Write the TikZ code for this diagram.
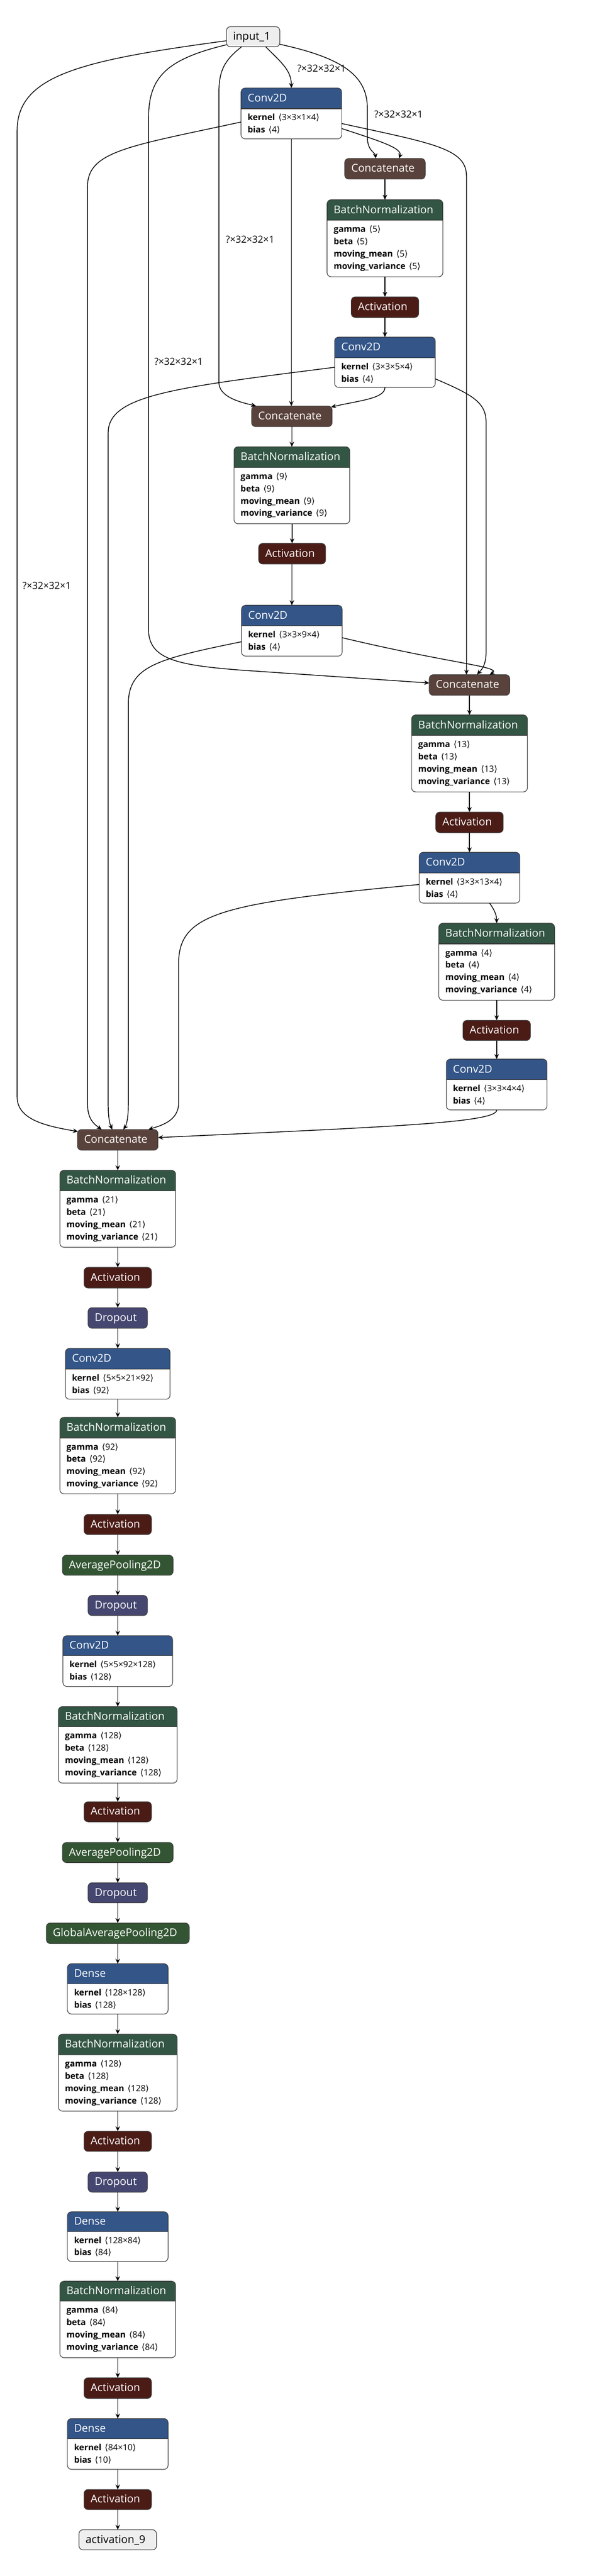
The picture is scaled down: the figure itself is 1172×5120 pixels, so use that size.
\documentclass[tikz,border=0pt]{standalone}
\usepackage{fontspec}
\setmainfont{Open Sans}
\newfontfamily\symf{DejaVu Sans}
\usetikzlibrary{arrows.meta,calc,fit}
\definecolor{clayer}{RGB}{51,85,136}
\definecolor{cnorm}{RGB}{51,85,68}
\definecolor{cact}{RGB}{75,27,22}
\definecolor{cpool}{RGB}{51,85,51}
\definecolor{cdrop}{RGB}{69,71,112}
\definecolor{ctens}{RGB}{89,66,59}
\definecolor{cio}{RGB}{238,238,238}
\definecolor{bordc}{RGB}{60,60,60}
\newcommand\rad{8pt}
\tikzset{
 edge/.style={draw=black, line width=1.5pt, -{Stealth[length=10pt,width=9pt,inset=3.5pt]}},
 bord/.style={draw=bordc, line width=1.2pt},
 hfont/.style={font=\fontsize{21.4}{24}\selectfont},
 afont/.style={font=\fontsize{17}{20}\selectfont},
 lbl/.style={font=\fontsize{19.3}{22}\selectfont, inner sep=0pt},
}
% layer box with header: name xl yt xr yh yb color title
\newcommand\lyr[8]{%
  \node[fit={(#2,#3) (#4,#6)}, inner sep=0pt, outer sep=0pt, fill=white, rounded corners=\rad] (#1) {};
  \begin{scope}
    \clip (#2,#3) rectangle (#4,#5);
    \fill[#7, rounded corners=\rad] (#2,#3) rectangle (#4,#6);
  \end{scope}
  \draw[bord] (#2,#5) -- (#4,#5);
  \draw[bord, rounded corners=\rad] (#2,#3) rectangle (#4,#6);
  \node[hfont, text=white, anchor=base west, inner sep=0pt] (#1-t) at ({#2+13},{(#3+#5)/2+6.5}) {#8};
}
% attribute row: box xl yh index key value
\newcommand\att[6]{%
  \node[afont, anchor=base west, inner sep=0pt] (#1-a#4) at ({#2+13},{#3+23.5+24.5*#4}) {\textbf{#5}\hspace{0.4em}{\symf ⟨}#6{\symf ⟩}};
}
% simple box: name xl yt xr yb fill textcolor text
\newcommand\snd[8]{%
  \node[fit={(#2,#3) (#4,#5)}, inner sep=0pt, outer sep=0pt, fill=#6, bord, rounded corners=\rad] (#1) {};
  \node[hfont, text=#7, anchor=base west, inner sep=0pt] (#1-t) at ({#2+13},{(#3+#5)/2+6.5}) {#8};
}
\newcommand\bnatts[4]{%
  \att{#1}{#2}{#3}{0}{gamma}{#4}
  \att{#1}{#2}{#3}{1}{beta}{#4}
  \att{#1}{#2}{#3}{2}{moving\_mean}{#4}
  \att{#1}{#2}{#3}{3}{moving\_variance}{#4}
}
\begin{document}
\begin{tikzpicture}[x=1pt,y=-1pt]
\useasboundingbox (0,0) rectangle (1172,5120);
\fill[white] (0,0) rectangle (1172,5120);

\snd{in1}{450}{53}{556}{93}{cio}{black}{input\_1}
\lyr{c1}{479}{175}{679}{216}{276}{clayer}{Conv2D}
\att{c1}{479}{216}{0}{kernel}{3×3×1×4}
\att{c1}{479}{216}{1}{bias}{4}
\snd{cat1}{685}{315}{845}{356}{ctens}{white}{Concatenate}
\lyr{bn1}{650}{397}{880}{438}{550}{cnorm}{BatchNormalization}
\bnatts{bn1}{650}{438}{5}
\snd{a1}{698}{590}{832}{631}{cact}{white}{Activation}
\lyr{c2}{665}{670}{865}{711}{770}{clayer}{Conv2D}
\att{c2}{665}{711}{0}{kernel}{3×3×5×4}
\att{c2}{665}{711}{1}{bias}{4}
\snd{cat2}{500}{807}{660}{848}{ctens}{white}{Concatenate}
\lyr{bn2}{465}{888}{695}{929}{1041}{cnorm}{BatchNormalization}
\bnatts{bn2}{465}{929}{9}
\snd{a2}{514}{1080}{647}{1121}{cact}{white}{Activation}
\lyr{c3}{480}{1203}{680}{1244}{1304}{clayer}{Conv2D}
\att{c3}{480}{1244}{0}{kernel}{3×3×9×4}
\att{c3}{480}{1244}{1}{bias}{4}
\snd{cat3}{853}{1341}{1013}{1382}{ctens}{white}{Concatenate}
\lyr{bn3}{818}{1421}{1048}{1462}{1574}{cnorm}{BatchNormalization}
\bnatts{bn3}{818}{1462}{13}
\snd{a3}{866}{1614}{1000}{1655}{cact}{white}{Activation}
\lyr{c4}{833}{1694}{1033}{1735}{1795}{clayer}{Conv2D}
\att{c4}{833}{1735}{0}{kernel}{3×3×13×4}
\att{c4}{833}{1735}{1}{bias}{4}
\lyr{bn4}{872}{1835}{1102}{1876}{1988}{cnorm}{BatchNormalization}
\bnatts{bn4}{872}{1876}{4}
\snd{a4}{920}{2028}{1054}{2068}{cact}{white}{Activation}
\lyr{c5}{887}{2105}{1087}{2146}{2206}{clayer}{Conv2D}
\att{c5}{887}{2146}{0}{kernel}{3×3×4×4}
\att{c5}{887}{2146}{1}{bias}{4}
\snd{cat4}{154}{2245}{314}{2286}{ctens}{white}{Concatenate}
\lyr{bn5}{119}{2326}{349}{2367}{2479}{cnorm}{BatchNormalization}
\bnatts{bn5}{119}{2367}{21}
\snd{a5}{167}{2519}{301}{2560}{cact}{white}{Activation}
\snd{d1}{175}{2599}{293}{2640}{cdrop}{white}{Dropout}
\lyr{c6}{130}{2680}{338}{2721}{2781}{clayer}{Conv2D}
\att{c6}{130}{2721}{0}{kernel}{5×5×21×92}
\att{c6}{130}{2721}{1}{bias}{92}
\lyr{bn6}{119}{2817}{349}{2858}{2969}{cnorm}{BatchNormalization}
\bnatts{bn6}{119}{2858}{92}
\snd{a6}{167}{3010}{301}{3050}{cact}{white}{Activation}
\snd{p1}{124}{3091}{344}{3131}{cpool}{white}{AveragePooling2D}
\snd{d2}{175}{3171}{293}{3211}{cdrop}{white}{Dropout}
\lyr{c7}{125}{3251}{343}{3291}{3352}{clayer}{Conv2D}
\att{c7}{125}{3291}{0}{kernel}{5×5×92×128}
\att{c7}{125}{3291}{1}{bias}{128}
\lyr{bn7}{116}{3392}{352}{3432}{3544}{cnorm}{BatchNormalization}
\bnatts{bn7}{116}{3432}{128}
\snd{a7}{167}{3581}{301}{3621}{cact}{white}{Activation}
\snd{p2}{124}{3662}{344}{3702}{cpool}{white}{AveragePooling2D}
\snd{d3}{175}{3742}{293}{3782}{cdrop}{white}{Dropout}
\snd{gap}{92}{3822}{376}{3863}{cpool}{white}{GlobalAveragePooling2D}
\lyr{de1}{134}{3903}{334}{3943}{4003}{clayer}{Dense}
\att{de1}{134}{3943}{0}{kernel}{128×128}
\att{de1}{134}{3943}{1}{bias}{128}
\lyr{bn8}{116}{4043}{352}{4084}{4196}{cnorm}{BatchNormalization}
\bnatts{bn8}{116}{4084}{128}
\snd{a8}{167}{4236}{301}{4276}{cact}{white}{Activation}
\snd{d4}{175}{4317}{293}{4357}{cdrop}{white}{Dropout}
\lyr{de2}{134}{4396}{334}{4435}{4495}{clayer}{Dense}
\att{de2}{134}{4435}{0}{kernel}{128×84}
\att{de2}{134}{4435}{1}{bias}{84}
\lyr{bn9}{119}{4534}{349}{4574}{4686}{cnorm}{BatchNormalization}
\bnatts{bn9}{119}{4574}{84}
\snd{a9}{167}{4726}{301}{4767}{cact}{white}{Activation}
\lyr{de3}{134}{4807}{334}{4847}{4908}{clayer}{Dense}
\att{de3}{134}{4847}{0}{kernel}{84×10}
\att{de3}{134}{4847}{1}{bias}{10}
\snd{a10}{167}{4948}{301}{4988}{cact}{white}{Activation}
\snd{out}{157}{5028}{311}{5068}{cio}{black}{activation\_9}

% straight chains
\foreach \a/\b in {cat1/bn1,bn1/a1,a1/c2,cat2/bn2,bn2/a2,a2/c3,cat3/bn3,bn3/a3,a3/c4,bn4/a4,a4/c5,
  cat4/bn5,bn5/a5,a5/d1,d1/c6,c6/bn6,bn6/a6,a6/p1,p1/d2,d2/c7,c7/bn7,bn7/a7,a7/p2,p2/d3,d3/gap,gap/de1,
  de1/bn8,bn8/a8,a8/d4,d4/de2,de2/bn9,bn9/a9,a9/de3,de3/a10,a10/out}
  \draw[edge] (\b.north |- \a.south) -- (\b.north);
\draw[edge] (c1.south) -- (c1.south |- cat2.north);

% input_1 fan-out
\draw[edge] ($(in1.south west)+(78,0)$) .. controls (560,125) and (579,140) .. (c1.north);
\draw[edge] ($(in1.east)+(0,15)$) .. controls (680,115) and (730,150) .. (730,215) -- (730,272) .. controls (730,300) and (745,302) .. ($(cat1.north west)+(62,0)$);
\draw[edge] ($(in1.south west)+(30,0)$) .. controls (446,120) and (435,140) .. (435,185) -- (435,760) .. controls (435,790) and (480,800) .. ($(cat2.north west)+(9,0)$);
\draw[edge] ($(in1.west)+(0,16)$) .. controls (320,120) and (295,160) .. (295,240) -- (295,1250) .. controls (295,1310) and (350,1322) .. (480,1332) -- ($(cat3.west)+(0,-4)$);
\draw[edge] ($(in1.west)+(0,8)$) .. controls (160,120) and (34,150) .. (34,260) -- (34,2180) .. controls (34,2225) and (90,2238) .. ($(cat4.north west)+(1,4)$);

% conv1 outputs
\draw[edge] ($(c1.east)+(0,30)$) .. controls (760,282) and (800,295) .. ($(cat1.north west)+(108,0)$);
\draw[edge] ($(c1.east)+(0,20)$) .. controls (860,285) and (927,295) .. (927,350) -- ($(cat3.north west)+(74,0)$);
\draw[edge] ($(c1.west)+(0,17)$) .. controls (260,290) and (174,300) .. (174,370) -- (174,2195) .. controls (174,2225) and (188,2235) .. ($(cat4.north west)+(48,0)$);

% conv2 outputs
\draw[edge] (c2.south) .. controls (765,792) and (715,796) .. ($(cat2.north east)+(-2,2)$);
\draw[edge] ($(c2.east)+(0,33)$) .. controls (940,785) and (966,800) .. (966,840) -- (966,1295) .. controls (966,1325) and (955,1333) .. ($(cat3.north west)+(95,0)$);
\draw[edge] ($(c2.west)+(0,10)$) .. controls (350,770) and (215,785) .. (215,860) -- (215,2195) .. controls (215,2228) and (220,2238) .. ($(cat4.north west)+(69,0)$);

% conv3 outputs
\draw[edge] ($(c3.east)+(0,14)$) .. controls (900,1320) and (1000,1325) .. ($(cat3.north west)+(120,0)$);
\draw[edge] ($(c3.west)+(0,22)$) .. controls (310,1310) and (255,1325) .. (255,1400) -- (255,2195) .. controls (255,2228) and (250,2238) .. ($(cat4.north west)+(91,0)$);

% conv4 outputs
\draw[edge] ($(c4.south west)+(140,0)$) .. controls (982,1808) and (987,1818) .. (bn4.north);
\draw[edge] ($(c4.west)+(0,13.5)$) .. controls (440,1795) and (355,1815) .. (355,1915) -- (355,2192) .. controls (355,2228) and (320,2237) .. ($(cat4.north west)+(141,0)$);

% conv5 output
\draw[edge] (c5.south) .. controls (990,2232) and (760,2240) .. ($(cat4.east)+(0,-4.5)$);

% edge labels
\node[lbl] (l1) at (639,136) {?×32×32×1};
\node[lbl] (l2) at (792,227) {?×32×32×1};
\node[lbl] (l3) at (497,476) {?×32×32×1};
\node[lbl] (l4) at (355,719) {?×32×32×1};
\node[lbl] (l5) at (93,1164) {?×32×32×1};
\end{tikzpicture}
\end{document}
